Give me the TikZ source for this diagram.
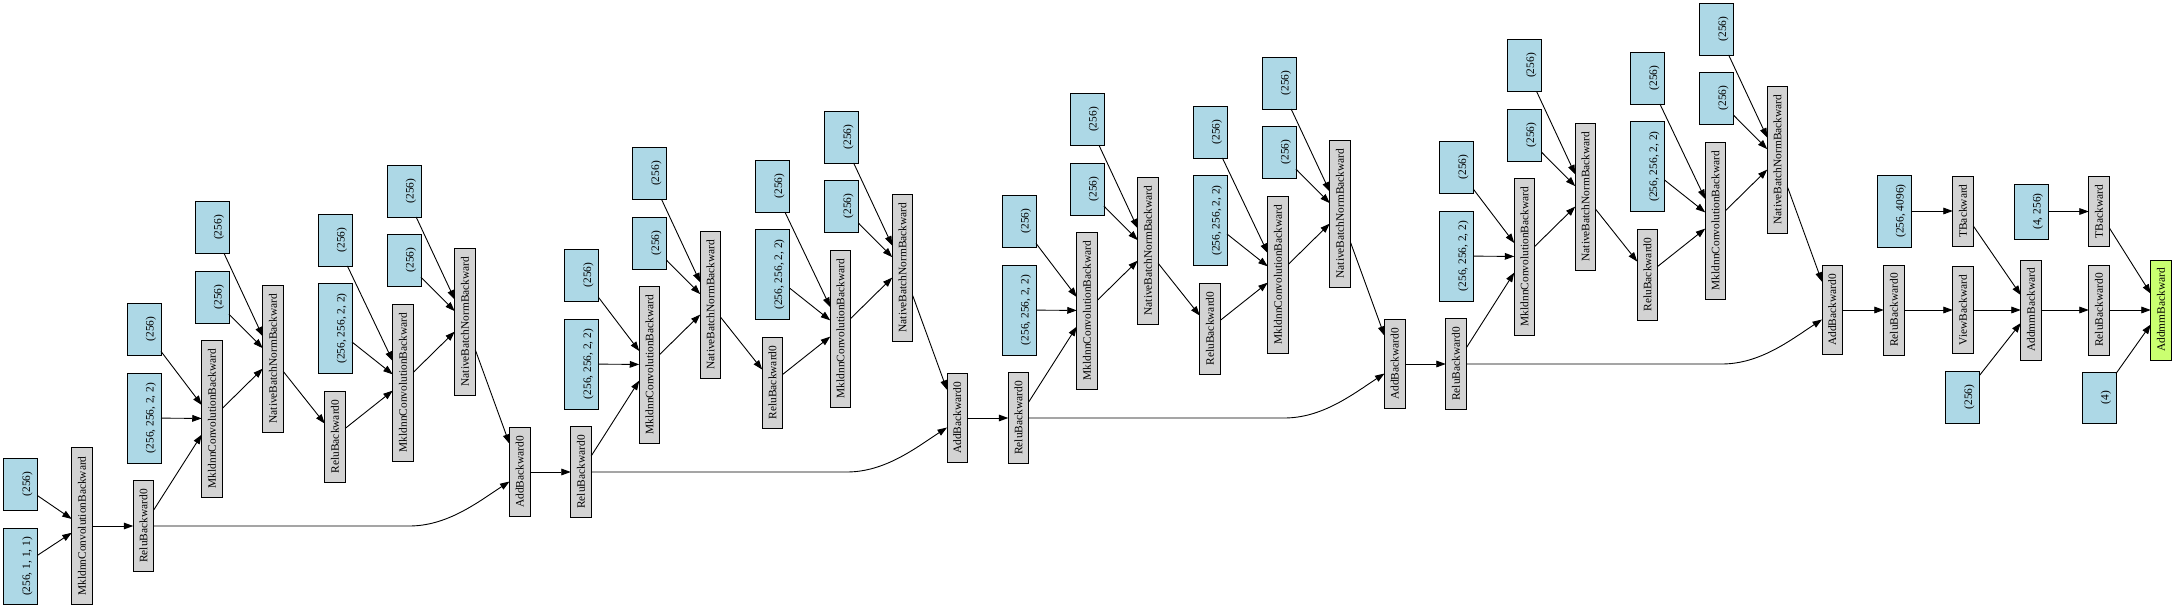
\documentclass[tikz,border=0pt]{standalone}
\usepackage{fontspec}
\setmainfont{Liberation Serif}
\usetikzlibrary{arrows.meta,calc}
\definecolor{lblue}{HTML}{ADD8E6}
\definecolor{lgray}{HTML}{D3D3D3}
\definecolor{lgreen}{HTML}{CAFF70}
\newcommand{\gt}[1]{\rotatebox{90}{#1}}
\newcommand{\bt}[1]{\rotatebox{90}{\begin{tabular}{@{}c@{}}\\ #1\end{tabular}}}
\tikzset{
  gbox/.style={draw=black, fill=lgray, line width=0.9pt, minimum width=20.5pt, inner sep=0pt, outer sep=0pt, font=\fontsize{11.4}{13.6}\selectfont},
  bbox/.style={draw=black, fill=lblue, line width=0.9pt, minimum width=34pt, inner sep=0pt, outer sep=0pt, font=\fontsize{11.4}{13.6}\selectfont},
  edge/.style={draw=black, line width=0.9pt, -{Triangle[length=9.5pt,width=6.7pt]}},
}
\begin{document}
\begin{tikzpicture}[x=1pt,y=-1pt]
\useasboundingbox (0,0) rectangle (2175,610);
% stem
\node[bbox, minimum height=52pt] (a1) at (20.5,484) {\bt{(256)}};
\node[bbox, minimum height=76pt] (a2) at (20.5,566.5) {\bt{(256, 1, 1, 1)}};
\node[gbox, minimum height=157pt] (cv0) at (82,526) {\gt{MkldnnConvolutionBackward}};
\draw[edge] (a1) -- (cv0);
\draw[edge] (a2) -- (cv0);
% residual blocks
\foreach \k in {0,1,2,3}{
\begin{scope}[shift={(437.5*\k,-54*\k)}]
\node[gbox, minimum height=91pt] (r\k) at (143.5,526) {\gt{ReluBackward0}};
\node[bbox, minimum height=52pt] (b1-\k) at (144,329) {\bt{(256)}};
\node[bbox, minimum height=90pt] (b2-\k) at (144,418) {\bt{(256, 256, 2, 2)}};
\node[gbox, minimum height=157pt] (cva-\k) at (212,418.5) {\gt{MkldnnConvolutionBackward}};
\node[bbox, minimum height=52pt] (c1-\k) at (212,227.5) {\bt{(256)}};
\node[bbox, minimum height=52pt] (c2-\k) at (212,297) {\bt{(256)}};
\node[gbox, minimum height=147pt] (bna-\k) at (273,358.5) {\gt{NativeBatchNormBackward}};
\node[bbox, minimum height=52pt] (d1-\k) at (335,240) {\bt{(256)}};
\node[bbox, minimum height=90pt] (d2-\k) at (335,328.5) {\bt{(256, 256, 2, 2)}};
\node[gbox, minimum height=91pt] (rl-\k) at (335,436.5) {\gt{ReluBackward0}};
\node[gbox, minimum height=157pt] (cvb-\k) at (403,382.5) {\gt{MkldnnConvolutionBackward}};
\node[bbox, minimum height=52pt] (e1-\k) at (404,191) {\bt{(256)}};
\node[bbox, minimum height=52pt] (e2-\k) at (404,260) {\bt{(256)}};
\node[gbox, minimum height=147pt] (bnb-\k) at (465,321.5) {\gt{NativeBatchNormBackward}};
\node[gbox, minimum height=89pt] (ad\k) at (519.75,472) {\gt{AddBackward0}};
\draw[edge] (b1-\k) -- (cva-\k);
\draw[edge] (b2-\k) -- (cva-\k);
\draw[edge] (r\k) -- (cva-\k);
\draw[edge] (c1-\k) -- (bna-\k);
\draw[edge] (c2-\k) -- (bna-\k);
\draw[edge] (cva-\k) -- (bna-\k);
\draw[edge] (bna-\k) -- (rl-\k);
\draw[edge] (d1-\k) -- (cvb-\k);
\draw[edge] (d2-\k) -- (cvb-\k);
\draw[edge] (rl-\k) -- (cvb-\k);
\draw[edge] (e1-\k) -- (bnb-\k);
\draw[edge] (e2-\k) -- (bnb-\k);
\draw[edge] (cvb-\k) -- (bnb-\k);
\draw[edge] (bnb-\k) -- (ad\k);
\draw[edge] (r\k.east) -- ++(255.5,0) .. controls +(38,0) and +(-32,21) .. ($(ad\k.west)+(0,9.5)$);
\end{scope}
}
\draw[edge] (cv0) -- (r0);
\draw[edge] (ad0) -- (r1);
\draw[edge] (ad1) -- (r2);
\draw[edge] (ad2) -- (r3);
% head
\node[gbox, minimum height=90pt] (r4) at (1894,310) {\gt{ReluBackward0}};
\node[gbox, minimum height=87pt] (vw) at (1963,310) {\gt{ViewBackward}};
\node[bbox, minimum height=72pt] (p1) at (1894,211) {\bt{(256, 4096)}};
\node[gbox, minimum height=70pt] (t1) at (1963,211) {\gt{TBackward}};
\node[bbox, minimum height=52pt] (p2) at (1962.5,397) {\bt{(256)}};
\node[gbox, minimum height=100pt] (am1) at (2031,310) {\gt{AddmmBackward}};
\node[bbox, minimum height=55pt] (p3) at (2031,211.5) {\bt{(4, 256)}};
\node[gbox, minimum height=70pt] (t2) at (2099,211.5) {\gt{TBackward}};
\node[gbox, minimum height=90pt] (r5) at (2099,310) {\gt{ReluBackward0}};
\node[bbox, minimum height=51pt] (p4) at (2099,397.5) {\bt{(4)}};
\node[gbox, fill=lgreen, minimum height=100pt] (am2) at (2161,310) {\gt{AddmmBackward}};
\draw[edge] (ad3) -- (r4);
\draw[edge] (r4) -- (vw);
\draw[edge] (p1) -- (t1);
\draw[edge] (vw) -- (am1);
\draw[edge] (t1) -- (am1);
\draw[edge] (p2) -- (am1);
\draw[edge] (am1) -- (r5);
\draw[edge] (p3) -- (t2);
\draw[edge] (r5) -- (am2);
\draw[edge] (t2) -- (am2);
\draw[edge] (p4) -- (am2);
\end{tikzpicture}
\end{document}
